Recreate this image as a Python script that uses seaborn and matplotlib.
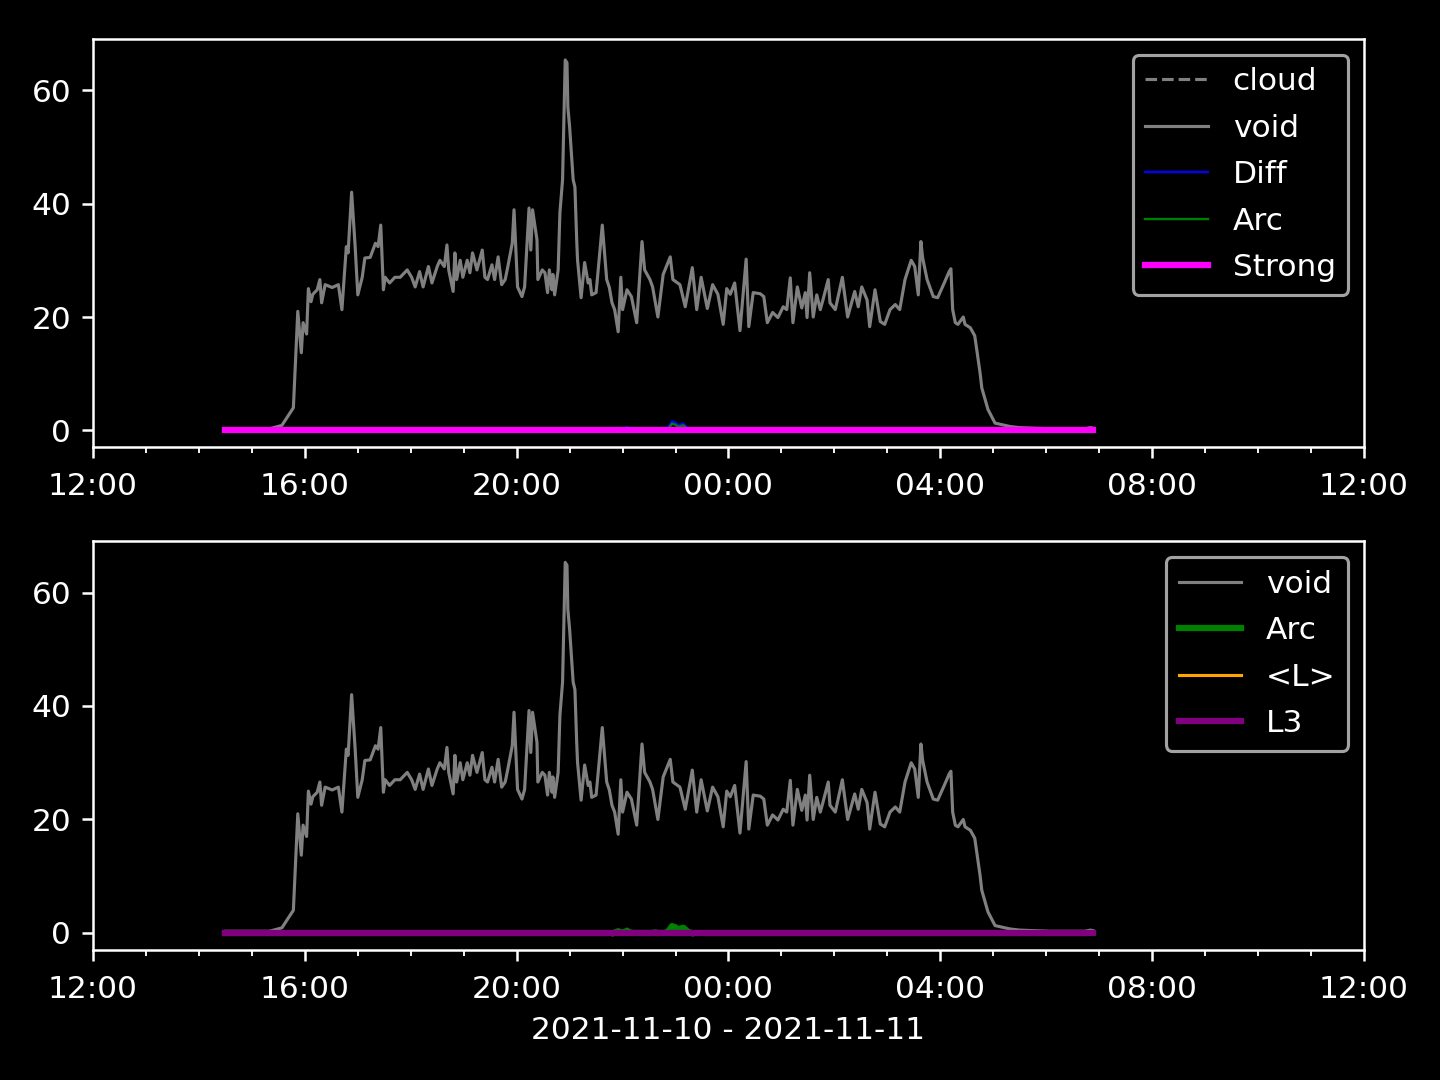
import pandas as pd
import numpy as np
import matplotlib
matplotlib.use("Agg")
import matplotlib.pyplot as plt
import matplotlib.dates as mdates
import seaborn as sns

# void signal (clock time, value)
void_times = [
    "14:30", "15:20", "15:34", "15:47", "15:52", "15:56", "15:58", "16:02", "16:04", "16:07",
    "16:09", "16:14", "16:17", "16:19", "16:23", "16:31", "16:38", "16:42", "16:47", "16:49",
    "16:53", "16:57", "17:00", "17:05", "17:08", "17:14", "17:20", "17:23", "17:26", "17:29",
    "17:31", "17:36", "17:42", "17:48", "17:56", "18:01", "18:05", "18:10", "18:14", "18:20",
    "18:24", "18:30", "18:33", "18:38", "18:41", "18:43", "18:48", "18:50", "18:52", "18:56",
    "18:59", "19:04", "19:07", "19:10", "19:15", "19:21", "19:24", "19:27", "19:32", "19:35",
    "19:39", "19:43", "19:47", "19:50", "19:55", "19:57", "20:01", "20:06", "20:09", "20:14",
    "20:16", "20:18", "20:23", "20:24", "20:29", "20:32", "20:35", "20:37", "20:40", "20:41",
    "20:43", "20:47", "20:49", "20:51", "20:52", "20:55", "20:57", "20:58", "21:00", "21:04",
    "21:06", "21:08", "21:09", "21:13", "21:17", "21:21", "21:23", "21:25", "21:30", "21:37",
    "21:42", "21:45", "21:48", "21:51", "21:55", "21:58", "22:00", "22:05", "22:10", "22:16",
    "22:22", "22:25", "22:31", "22:34", "22:40", "22:46", "22:54", "22:57", "23:05", "23:11",
    "23:19", "23:24", "23:29", "23:36", "23:42", "23:48", "23:54", "23:58", "00:02", "00:07",
    "00:13", "00:20", "00:23", "00:28", "00:36", "00:40", "00:44", "00:50", "00:56", "01:02",
    "01:06", "01:10", "01:13", "01:18", "01:23", "01:27", "01:29", "01:32", "01:36", "01:40",
    "01:44", "01:47", "01:53", "01:55", "02:01", "02:09", "02:15", "02:23", "02:27", "02:31",
    "02:37", "02:40", "02:46", "02:52", "02:57", "03:03", "03:09", "03:14", "03:20", "03:27",
    "03:31", "03:35", "03:38", "03:40", "03:45", "03:52", "03:57", "04:05", "04:10", "04:12",
    "04:14", "04:17", "04:20", "04:26", "04:28", "04:34", "04:39", "04:45", "04:47", "04:54",
    "05:02", "05:19", "05:30", "06:04", "06:44", "06:50", "06:53",
]
void_vals = [
    0.3, 0.3, 0.9, 4.0, 21.0, 13.7, 19.0, 17.0, 25.0, 22.7,
    24.0, 24.8, 26.6, 22.5, 25.7, 25.2, 25.7, 21.3, 32.4, 31.3,
    42.0, 32.4, 23.9, 27.0, 30.4, 30.5, 33.0, 32.4, 36.2, 24.8,
    27.0, 26.0, 27.0, 27.0, 28.3, 27.0, 25.3, 28.0, 25.3, 28.9,
    26.0, 28.9, 30.0, 28.9, 32.7, 28.3, 24.5, 31.3, 26.6, 30.0,
    27.0, 30.0, 27.8, 31.3, 28.3, 31.8, 27.0, 26.6, 29.2, 26.6,
    30.6, 25.7, 26.6, 28.9, 33.0, 38.9, 25.3, 23.6, 25.3, 39.2,
    31.8, 38.9, 33.6, 26.6, 28.3, 27.8, 24.3, 28.3, 24.8, 27.5,
    23.9, 28.3, 38.4, 42.4, 44.2, 65.3, 64.8, 57.0, 53.5, 44.2,
    42.9, 33.6, 30.0, 23.4, 29.6, 26.0, 26.6, 23.9, 24.3, 36.2,
    26.6, 25.2, 22.5, 21.3, 17.4, 27.0, 21.3, 24.8, 23.6, 19.0,
    33.3, 28.3, 26.6, 25.3, 20.0, 27.5, 30.6, 26.6, 25.7, 21.8,
    28.7, 21.3, 27.0, 21.5, 25.7, 24.0, 18.7, 25.0, 24.0, 26.0,
    17.6, 30.2, 18.3, 24.3, 24.1, 23.6, 19.0, 20.8, 19.9, 21.8,
    21.3, 26.9, 19.0, 25.3, 21.6, 24.3, 19.9, 27.8, 20.0, 23.9,
    21.3, 23.0, 26.6, 22.5, 21.3, 27.0, 20.0, 24.5, 21.8, 25.3,
    23.0, 18.3, 24.8, 19.2, 18.7, 21.3, 22.2, 21.3, 26.6, 30.0,
    28.9, 23.9, 33.3, 30.4, 26.6, 23.6, 23.4, 26.2, 28.0, 28.5,
    21.3, 19.0, 18.7, 20.0, 18.7, 18.1, 16.7, 10.2, 7.5, 3.7,
    1.3, 0.7, 0.5, 0.3, 0.3, 0.5, 0.4,
]

# small Diff / Arc bumps around 22:00 - 23:15
ev_times = ["21:50", "21:55", "21:58", "22:02", "22:05", "22:08", "22:12", "22:30", "22:34", "22:37",
            "22:40", "22:48", "22:52", "22:56", "23:00", "23:03", "23:06", "23:09", "23:14", "23:18"]
diff_vals = [0, 0.5, 0.2, 0.2, 0.6, 0.2, 0, 0, 0.1, 0.3,
             0, 0, 0.6, 1.6, 1.4, 0.9, 1.1, 1.2, 0.3, 0]
arc_vals = [0, 0.3, 0.1, 0.1, 0.4, 0.1, 0, 0, 0, 0.1,
            0, 0, 0.3, 1.2, 1.0, 0.6, 0.8, 0.9, 0.2, 0]


def to_dt(times):
    out = []
    for t in times:
        day = "2021-11-10" if int(t[:2]) >= 12 else "2021-11-11"
        out.append(pd.Timestamp(f"{day} {t}"))
    return out


void_df = pd.DataFrame({"time": to_dt(void_times), "void": void_vals})
void_df["zero"] = 0.0
ev_df = pd.DataFrame({"time": to_dt(ev_times), "Diff": diff_vals, "Arc": arc_vals})

plt.style.use("dark_background")
fig, axes = plt.subplots(2, 1, figsize=(6.4, 4.8), dpi=225)
fig.subplots_adjust(left=0.0646, right=0.9472, top=0.9639, bottom=0.1204, hspace=0.23)

# Top panel
ax = axes[0]
sns.lineplot(data=void_df, x="time", y="zero", ax=ax, color="gray", linestyle="--", linewidth=1, label="cloud")
sns.lineplot(data=void_df, x="time", y="void", ax=ax, color="gray", linewidth=1, label="void")
sns.lineplot(data=ev_df, x="time", y="Diff", ax=ax, color="blue", linewidth=0.75, label="Diff")
sns.lineplot(data=ev_df, x="time", y="Arc", ax=ax, color="green", linewidth=0.75, label="Arc")
sns.lineplot(data=void_df, x="time", y="zero", ax=ax, color="magenta", linewidth=2, label="Strong")

# Bottom panel
ax = axes[1]
sns.lineplot(data=void_df, x="time", y="void", ax=ax, color="gray", linewidth=1, label="void")
sns.lineplot(data=ev_df, x="time", y="Arc", ax=ax, color="green", linewidth=2, label="Arc")
sns.lineplot(data=void_df, x="time", y="zero", ax=ax, color="orange", linewidth=1, label="<L>")
sns.lineplot(data=void_df, x="time", y="zero", ax=ax, color="purple", linewidth=2, label="L3")

for ax in axes:
    ax.set_xlim(pd.Timestamp("2021-11-10 12:00"), pd.Timestamp("2021-11-11 12:00"))
    ax.set_ylim(-3, 69)
    ax.set_yticks([0, 20, 40, 60])
    ax.xaxis.set_major_locator(mdates.HourLocator(byhour=[0, 4, 8, 12, 16, 20]))
    ax.xaxis.set_minor_locator(mdates.HourLocator())
    ax.xaxis.set_major_formatter(mdates.DateFormatter("%H:%M"))
    ax.tick_params(axis="x", which="major", pad=4.5)
    ax.set_ylabel("")
    ax.set_xlabel("")
    ax.legend(loc="upper right", labelspacing=0.56)

axes[1].set_xlabel("2021-11-10 - 2021-11-11")

plt.savefig("out.png", dpi=225)
